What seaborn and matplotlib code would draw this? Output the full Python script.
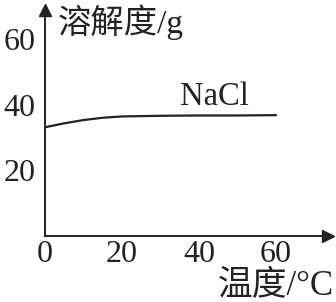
import matplotlib
matplotlib.use("Agg")
import matplotlib.pyplot as plt
import seaborn as sns
import pandas as pd

temperature = [0, 5, 10, 15, 20, 30, 40, 50, 60]
solubility = [33.2, 34.4, 35.4, 36.1, 36.5, 36.7, 36.8, 36.8, 36.9]
x_ticks = [0, 20, 40, 60]
y_ticks = [20, 40, 60]
series_label = "NaCl"
y_title = "溶解度/g"
x_title = "温度/°C"

sns.set_theme(style="white")
plt.rcParams['font.family'] = ['Liberation Serif', 'Noto Sans CJK SC']

fig = plt.figure(figsize=(3.36, 3.02), dpi=100)
ax = fig.add_axes([45/336, (302-236)/302, (328-45)/336, (236-10)/302])

df = pd.DataFrame({"T": temperature, "S": solubility})
sns.lineplot(data=df, x="T", y="S", ax=ax, color="#222222", linewidth=1.6)

ax.set_xlim(0, 73.5)
ax.set_ylim(0, 69)
ax.set_xticks(x_ticks)
ax.set_yticks(y_ticks)
ax.set_xlabel("")
ax.set_ylabel("")
for s in ["top", "right"]:
    ax.spines[s].set_visible(False)
for s in ["left", "bottom"]:
    ax.spines[s].set_color("#222222")
    ax.spines[s].set_linewidth(1.4)
ax.tick_params(axis="both", direction="in", length=6, width=1.2, colors="#222222",
               labelsize=23)
ax.tick_params(axis="x", pad=3)
ax.tick_params(axis="y", pad=7)

# arrow heads
ax.plot(1, 0, marker=">", markersize=9, color="#222222", transform=ax.transAxes, clip_on=False)
ax.plot(0, 1, marker="^", markersize=9, color="#222222", transform=ax.transAxes, clip_on=False)

ax.text(44, 42.5, series_label, fontsize=23.5, ha="center", va="center", color="#222222")
fig.text(58/336, 1 - 22/302, y_title, fontsize=24, ha="left", va="center", color="#222222")
fig.text(334/336, 1 - 286/302, x_title, fontsize=25, ha="right", va="center", color="#222222")

fig.savefig("out.png", dpi=100, facecolor="white")
